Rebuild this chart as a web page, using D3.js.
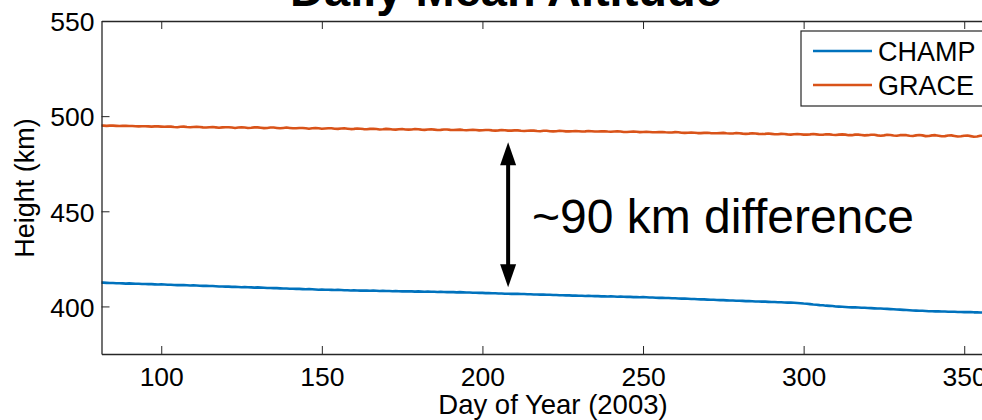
<!DOCTYPE html>
<html>
<head>
<meta charset="utf-8">
<script src="https://cdn.jsdelivr.net/npm/d3@7"></script>
<style>
  html, body { margin: 0; padding: 0; overflow: hidden; background: #fff; }
  svg { display: block; }
  text { font-family: "Liberation Sans", Arial, Helvetica, sans-serif; }
</style>
</head>
<body>
<svg id="chart" width="1040" height="420"></svg>
<script>
// ---- data ----
const startDay = 81;
const champ = [
  412.5,412.5,412.4,412.3,412.3,412.2,412.2,412.1,412.0,412.1,
  412.0,411.9,411.9,411.8,411.8,411.7,411.7,411.6,411.5,411.6,
  411.5,411.4,411.4,411.3,411.2,411.3,411.2,411.1,411.0,411.1,
  411.0,410.9,410.8,410.8,410.7,410.7,410.6,410.5,410.5,410.4,
  410.4,410.3,410.3,410.2,410.1,410.2,410.1,410.0,409.9,410.0,
  409.9,409.8,409.7,409.7,409.6,409.6,409.5,409.4,409.4,409.3,
  409.3,409.2,409.2,409.1,409.0,409.1,409.0,408.9,408.8,408.9,
  408.8,408.8,408.7,408.6,408.7,408.6,408.5,408.5,408.4,408.5,
  408.4,408.3,408.4,408.3,408.2,408.3,408.2,408.1,408.2,408.1,
  408.1,408.0,408.1,408.0,407.9,408.0,407.9,407.9,407.8,407.9,
  407.8,407.7,407.8,407.7,407.7,407.6,407.7,407.6,407.5,407.6,
  407.5,407.4,407.5,407.4,407.3,407.3,407.2,407.2,407.1,407.1,
  407.0,407.0,406.9,406.9,406.8,406.8,406.7,406.7,406.6,406.7,
  406.6,406.5,406.5,406.4,406.4,406.3,406.3,406.2,406.2,406.1,
  406.1,406.0,406.0,405.9,405.9,405.8,405.8,405.7,405.7,405.6,
  405.6,405.5,405.6,405.5,405.4,405.4,405.3,405.3,405.2,405.3,
  405.2,405.1,405.2,405.1,405.0,405.0,404.9,404.9,404.8,404.9,
  404.8,404.7,404.7,404.6,404.5,404.5,404.4,404.4,404.3,404.3,
  404.2,404.1,404.1,404.0,403.9,403.9,403.8,403.7,403.7,403.6,
  403.5,403.5,403.4,403.3,403.3,403.2,403.1,403.1,403.0,403.0,
  402.9,402.8,402.8,402.7,402.6,402.6,402.5,402.5,402.4,402.3,
  402.3,402.2,402.2,402.1,402.0,402.0,401.9,401.8,401.7,401.5,
  401.4,401.2,401.0,400.9,400.7,400.6,400.4,400.3,400.2,400.0,
  399.9,399.8,399.7,399.6,399.5,399.5,399.4,399.3,399.3,399.2,
  399.1,399.0,398.9,398.9,398.8,398.7,398.6,398.5,398.4,398.3,
  398.2,398.1,398.0,397.9,397.8,397.7,397.7,397.6,397.5,397.5,
  397.4,397.4,397.3,397.3,397.2,397.2,397.2,397.1,397.1,397.0,
  397.0,397.0,396.9,396.9,396.8,396.8,396.7,396.7,396.6,396.6,
  396.5,396.5,396.4,396.4,396.3
];
const grace = [
  495.1,495.0,494.9,495.0,495.0,494.9,494.8,494.9,494.9,494.8,
  494.8,494.7,494.6,494.7,494.7,494.6,494.5,494.6,494.6,494.5,
  494.4,494.5,494.5,494.3,494.2,494.4,494.5,494.3,494.2,494.3,
  494.4,494.3,494.1,494.0,494.2,494.3,494.1,493.9,494.1,494.2,
  494.2,494.0,493.8,494.0,494.2,494.0,493.8,493.9,494.1,494.1,
  493.9,493.7,493.8,494.0,494.0,493.8,493.6,493.8,494.0,493.8,
  493.6,493.6,493.8,493.8,493.6,493.4,493.6,493.8,493.6,493.4,
  493.5,493.6,493.6,493.4,493.3,493.5,493.6,493.4,493.2,493.3,
  493.5,493.4,493.2,493.1,493.3,493.4,493.2,493.0,493.1,493.3,
  493.2,493.0,492.9,493.1,493.2,493.0,492.9,493.0,493.2,493.1,
  492.9,492.8,493.0,493.1,492.9,492.7,492.8,493.0,493.0,492.8,
  492.7,492.8,492.9,492.7,492.6,492.7,492.8,492.7,492.5,492.6,
  492.7,492.7,492.5,492.4,492.5,492.7,492.6,492.4,492.4,492.5,
  492.5,492.3,492.2,492.3,492.4,492.4,492.2,492.1,492.3,492.3,
  492.1,492.0,492.1,492.3,492.2,492.0,492.0,492.1,492.2,492.1,
  491.9,492.0,492.2,492.1,491.9,491.9,492.0,492.1,491.9,491.8,
  491.9,492.0,491.9,491.7,491.7,491.8,491.9,491.8,491.6,491.7,
  491.8,491.7,491.5,491.5,491.6,491.7,491.5,491.4,491.4,491.6,
  491.5,491.3,491.2,491.3,491.4,491.3,491.1,491.1,491.2,491.3,
  491.1,491.0,491.0,491.1,491.2,491.0,490.9,490.9,491.1,491.0,
  490.8,490.7,490.8,491.0,490.9,490.7,490.6,490.7,490.9,490.7,
  490.5,490.5,490.7,490.6,490.4,490.3,490.5,490.6,490.5,490.3,
  490.3,490.4,490.6,490.4,490.2,490.2,490.5,490.4,490.2,490.1,
  490.3,490.4,490.3,490.0,490.0,490.3,490.3,490.1,489.9,490.0,
  490.2,490.2,489.9,489.7,489.9,490.2,490.1,489.8,489.7,490.0,
  490.1,490.0,489.7,489.6,489.9,490.1,489.9,489.5,489.6,489.9,
  490.0,489.7,489.4,489.5,489.8,489.9,489.6,489.3,489.4,489.7,
  489.8,489.5,489.2,489.3,489.7,489.7,489.3,489.2,489.4,489.6,
  489.5,489.2,489.1,489.3,489.5
];
const seriesNames = ["CHAMP", "GRACE"];
const seriesColors = ["#0072BD", "#D95319"];
const xTicks = [100, 150, 200, 250, 300, 350];
const yTicks = [400, 450, 500, 550];
const titleText = "Daily Mean Altitude";
const xLabel = "Day of Year (2003)";
const yLabel = "Height (km)";
const annotation = "~90 km difference";
const arrowDay = 208;
const arrowRange = [486.3, 410.1];

// ---- layout ----
const svg = d3.select("#chart");
const pLeft = 101.5, pRight = 1012.4, pTop = 21, pBottom = 354;
const x = d3.scaleLinear().domain([81.4, 365]).range([pLeft, pRight]);
const y = d3.scaleLinear().domain([375, 550]).range([pBottom, pTop]);
const axisColor = "#262626";

svg.append("defs").append("clipPath").attr("id", "clip")
  .append("rect").attr("x", pLeft).attr("y", pTop)
  .attr("width", pRight - pLeft).attr("height", pBottom - pTop);

// series lines
const line = d3.line().x((d, i) => x(startDay + i)).y(d => y(d));
const plot = svg.append("g").attr("clip-path", "url(#clip)");
[champ, grace].forEach((s, k) => {
  plot.append("path").datum(s)
    .attr("d", line)
    .attr("fill", "none")
    .attr("stroke", seriesColors[k])
    .attr("stroke-width", 2.6)
    .attr("stroke-linejoin", "round");
});

// axes (MATLAB style, ticks inward)
const tickLen = 8;
const xAxisB = d3.axisBottom(x).tickValues(xTicks).tickSizeInner(-tickLen).tickSizeOuter(0).tickPadding(14);
const xAxisT = d3.axisTop(x).tickValues(xTicks).tickSizeInner(-tickLen).tickSizeOuter(0).tickFormat("");
const yAxisL = d3.axisLeft(y).tickValues(yTicks).tickSizeInner(-tickLen).tickSizeOuter(0).tickPadding(15);

function styleAxis(g) {
  g.select(".domain").attr("stroke", axisColor).attr("stroke-width", 1.3);
  g.selectAll(".tick line").attr("stroke", axisColor).attr("stroke-width", 1);
  g.selectAll(".tick text").attr("fill", "#000").style("font-size", "26.5px")
    .style("font-family", "'Liberation Sans', Arial, sans-serif");
}
const gB = svg.append("g").attr("transform", `translate(0,${pBottom})`).call(xAxisB).call(styleAxis);
gB.selectAll(".tick text").attr("dy", "0.71em").attr("y", 13);
svg.append("g").attr("transform", `translate(0,${pTop})`).call(xAxisT).call(styleAxis);
const gL = svg.append("g").attr("transform", `translate(${pLeft},0)`).call(yAxisL).call(styleAxis);
gL.selectAll(".tick text").attr("dy", "0.37em").attr("x", -7);

// title
svg.append("text").attr("x", 506).attr("y", 6)
  .attr("text-anchor", "middle").style("font-size", "47px").style("font-weight", "bold")
  .attr("fill", "#000").text(titleText);

// axis labels
svg.append("text").attr("x", 553).attr("y", 414)
  .attr("text-anchor", "middle").style("font-size", "27.5px").attr("fill", "#000").text(xLabel);
svg.append("text").attr("transform", "translate(34,188) rotate(-90)")
  .attr("text-anchor", "middle").style("font-size", "27px").attr("fill", "#000").text(yLabel);

// arrow
const ax = x(arrowDay);
const yTopA = y(arrowRange[0]), yBotA = y(arrowRange[1]);
const headL = 23, headW = 8;
svg.append("line").attr("x1", ax).attr("x2", ax)
  .attr("y1", yTopA + headL - 2).attr("y2", yBotA - headL + 2)
  .attr("stroke", "#000").attr("stroke-width", 4);
svg.append("path")
  .attr("d", `M${ax},${yTopA} L${ax - headW},${yTopA + headL} L${ax + headW},${yTopA + headL} Z`)
  .attr("fill", "#000");
svg.append("path")
  .attr("d", `M${ax},${yBotA} L${ax - headW},${yBotA - headL} L${ax + headW},${yBotA - headL} Z`)
  .attr("fill", "#000");

// annotation
svg.append("text").attr("x", 532).attr("y", 233)
  .style("font-size", "48px").attr("fill", "#000").text(annotation);

// legend
const lg = svg.append("g");
lg.append("rect").attr("x", 801).attr("y", 31).attr("width", 200).attr("height", 75)
  .attr("fill", "#fff").attr("stroke", axisColor).attr("stroke-width", 1.2);
const legY = [51, 85];
seriesNames.forEach((n, k) => {
  lg.append("line").attr("x1", 813).attr("x2", 872).attr("y1", legY[k]).attr("y2", legY[k])
    .attr("stroke", seriesColors[k]).attr("stroke-width", 2.6);
  lg.append("text").attr("x", 878).attr("y", legY[k] + 10)
    .style("font-size", "27px").attr("fill", "#000").text(n);
});
</script>
</body>
</html>
